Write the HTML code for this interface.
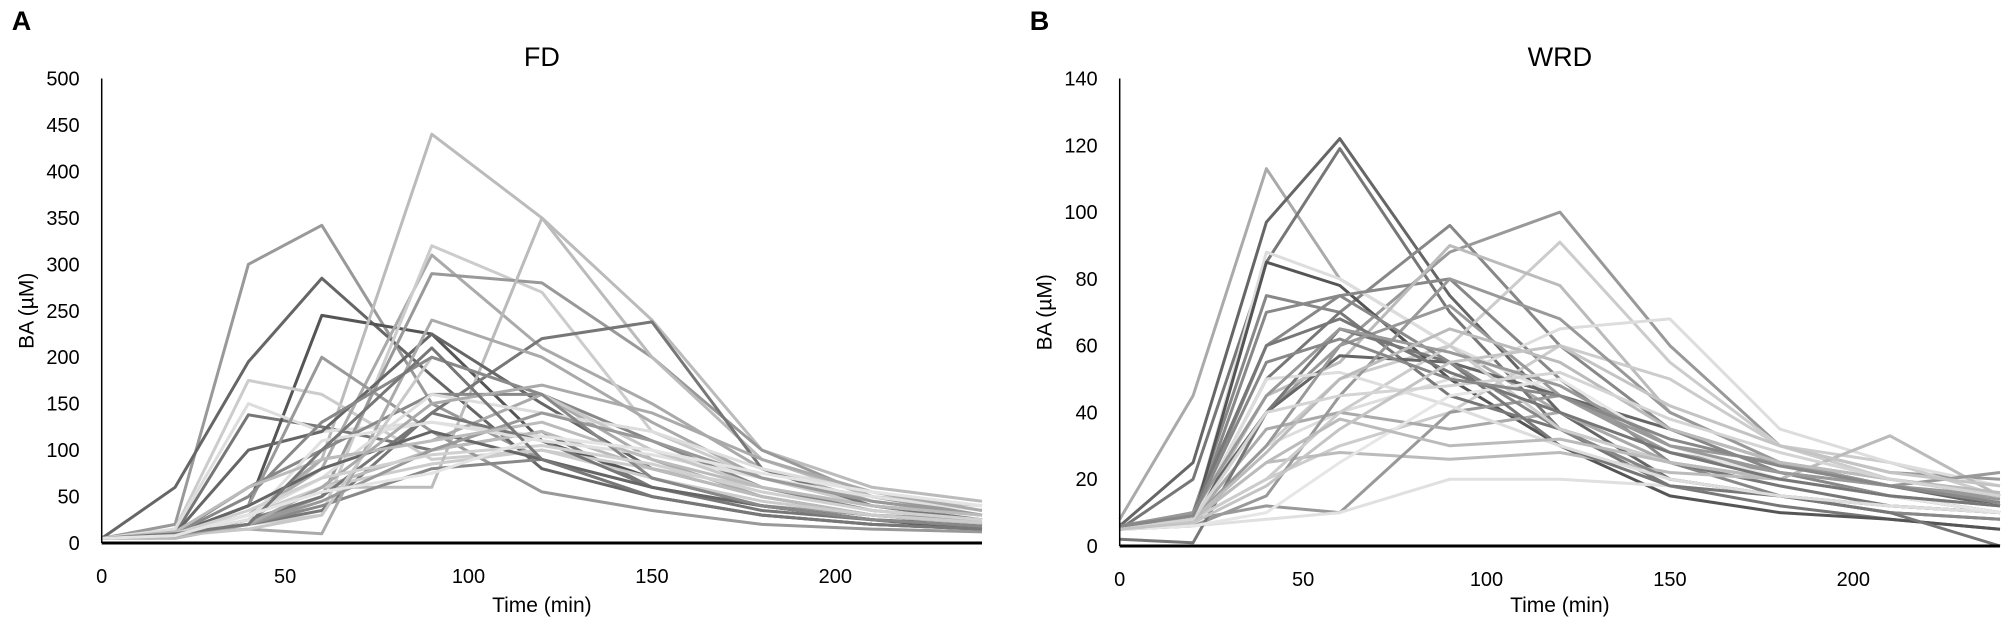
<!DOCTYPE html>
<html><head><meta charset="utf-8"><style>
html,body{margin:0;padding:0;background:#fff;}
svg{display:block;font-family:"Liberation Sans",sans-serif;}
</style></head><body>
<svg id="fig" width="2007" height="631" viewBox="0 0 2007 631" xmlns="http://www.w3.org/2000/svg"></svg>
<script>
const times = [0,20,40,60,90,120,150,180,210,240];
const xTicks = [0,50,100,150,200];
const fdTicks = [0,50,100,150,200,250,300,350,400,450,500];
const wrdTicks = [0,20,40,60,80,100,120,140];
const fdSeries = [
[5,20,300,342,150,90,60,40,30,25],[5,60,195,285,180,80,50,30,20,15],[5,10,138,125,100,120,60,40,25,20],
[5,10,40,245,225,110,70,40,25,15],[5,10,20,90,440,350,240,100,60,45],[5,15,175,160,90,100,80,60,40,30],
[5,15,150,120,130,115,100,70,50,35],[5,10,30,80,310,210,150,80,45,30],[5,10,20,30,320,270,120,70,40,30],
[5,10,20,50,290,280,200,100,50,30],[5,10,20,60,60,350,200,90,50,40],[5,10,20,35,140,220,238,80,40,25],
[5,10,100,120,225,150,80,50,30,20],[5,10,60,100,160,160,110,60,35,25],[5,10,40,200,120,55,35,20,15,12],
[5,10,30,90,110,160,90,50,30,20],[5,5,20,60,100,120,80,50,30,20],[5,10,30,60,85,100,70,45,30,22],
[5,8,25,50,140,110,60,35,25,18],[5,8,20,40,80,90,50,30,20,15],[5,10,15,10,240,200,130,70,45,30],
[5,10,30,70,160,140,120,80,55,40],[5,10,25,110,130,110,95,70,50,35],[5,8,15,30,200,160,100,60,40,30],
[5,10,40,80,120,90,60,40,25,18],[5,10,20,45,100,140,110,70,45,30],
[5,10,50,130,200,160,70,40,25,18],[5,12,60,90,110,130,90,60,40,30],[5,8,20,60,150,170,140,90,55,35],
[5,10,35,70,95,105,85,55,35,25],[5,10,20,100,210,90,50,30,20,15],[5,8,30,55,75,115,100,75,55,40]];
const fdColors = ["#999","#666","#777","#555","#bbb","#ccc","#ddd","#aaa","#ccc","#999","#bbb","#777","#666","#888","#999","#aaa","#bbb","#ccc","#777","#888","#aaa","#ddd","#e0e0e0","#c8c8c8","#666","#999","#888","#bbb","#aaa","#d0d0d0","#777","#e4e4e4"];
const wrdSeries = [
[8,45,113,80,60,40,25,20,15,10],[6,25,97,122,75,40,20,15,10,8],[5,20,85,119,70,35,18,12,8,5],
[5,10,75,70,96,60,35,22,15,10],[5,8,40,60,88,100,60,30,22,20],[5,8,30,50,60,91,55,30,25,15],
[6,8,88,80,60,45,30,20,15,12],[5,8,85,78,50,30,15,10,8,5],[5,8,60,75,80,50,25,15,10,8],
[6,8,45,55,90,78,40,25,20,15],[5,8,30,40,50,65,68,35,25,18],[5,8,20,30,40,60,50,30,20,15],
[5,8,50,70,45,35,25,18,12,10],[5,10,40,57,55,45,35,25,18,12],[5,8,25,28,26,28,22,20,33,15],
[5,8,12,10,40,45,30,25,18,15],[5,6,8,10,20,20,18,15,12,10],[5,8,35,40,35,40,25,20,15,10],
[5,6,15,45,80,68,40,25,20,15],[2,1,40,65,55,30,18,15,10,0],[5,8,70,75,55,35,20,15,12,10],
[5,8,20,40,60,35,25,20,15,12],[5,8,50,52,42,30,20,15,12,10],[5,8,30,60,72,45,28,22,18,22],
[5,6,10,25,45,50,30,20,15,10],[5,8,25,38,30,32,25,20,15,12],
[5,10,60,68,52,40,28,20,15,12],[6,10,45,65,58,48,30,22,18,14],[5,8,28,50,65,55,35,25,20,16],
[5,8,40,45,48,52,38,28,20,15],[6,9,55,62,50,45,32,24,18,13],[5,7,18,35,55,60,42,30,22,18]];
const wrdColors = ["#aaa","#666","#777","#888","#999","#ccc","#ddd","#555","#888","#bbb","#ddd","#ccc","#777","#666","#bbb","#999","#e0e0e0","#aaa","#999","#777","#888","#ccc","#ddd","#999","#e6e6e6","#bbb","#777","#999","#bbb","#d4d4d4","#888","#c4c4c4"];

const svg = document.getElementById('fig');
const NS = "http://www.w3.org/2000/svg";
function mk(tag, attrs, parent, text){
  const e = document.createElementNS(NS, tag);
  for (const k in attrs) e.setAttribute(k, attrs[k]);
  if (text !== undefined) e.textContent = text;
  (parent || svg).appendChild(e);
  return e;
}
function panel(cfg){
  const g = mk('g', {});
  
  
  const xs = t => cfg.x0 + t * cfg.pxPerMin;
  const ys = v => cfg.y0 - v / cfg.yMax * (cfg.y0 - cfg.yTop);
  cfg.series.forEach((s, i) => {
    const pts = s.map((v, j) => xs(times[j]).toFixed(1) + ',' + ys(v).toFixed(1)).join(' ');
    const pl = mk('polyline', {points: pts, fill: 'none', stroke: cfg.colors[i % cfg.colors.length], 'stroke-width': 3, 'stroke-linejoin': 'round'}, g);
    
    
  });
  const ya = mk('line', {x1: cfg.x0, y1: cfg.yTop, x2: cfg.x0, y2: cfg.y0, stroke: '#000', 'stroke-width': 1.5}, g);
  
  
  const xa = mk('line', {x1: cfg.x0, y1: cfg.y0, x2: xs(240), y2: cfg.y0, stroke: '#000', 'stroke-width': 3}, g);
  
  
  cfg.yTicks.forEach(v => {
    const t = mk('text', {x: cfg.x0 - 22, y: ys(v) + 7, 'text-anchor': 'end', 'font-size': 20}, g, String(v));
    
    
  });
  xTicks.forEach(v => {
    const t = mk('text', {x: xs(v), y: cfg.y0 + 40, 'text-anchor': 'middle', 'font-size': 20}, g, String(v));
    
    
  });
  const xt = mk('text', {x: cfg.x0 + 120 * cfg.pxPerMin, y: 612, 'text-anchor': 'middle', 'font-size': 21}, g, 'Time (min)');
  
  
  const yt = mk('text', {x: 0, y: 0, 'text-anchor': 'middle', 'font-size': 21, transform: 'translate(' + (cfg.x0 - 68) + ',' + ((cfg.y0 + cfg.yTop) / 2) + ') rotate(-90)'}, g, 'BA (µM)');
  
  
  const tt = mk('text', {x: cfg.x0 + 120 * cfg.pxPerMin, y: 66, 'text-anchor': 'middle', 'font-size': 27}, g, cfg.title);
  
  
  const lb = mk('text', {x: cfg.x0 - 90, y: 30, 'font-size': 27, 'font-weight': 'bold'}, g, cfg.letter);
  
  
}
panel({name: 'fd-panel', x0: 101.7, y0: 543, yTop: 78.5, yMax: 500, pxPerMin: 3.668, series: fdSeries, colors: fdColors, yTicks: fdTicks, title: 'FD', letter: 'A'});
panel({name: 'wrd-panel', x0: 1119.7, y0: 546, yTop: 78.5, yMax: 140, pxPerMin: 3.668, series: wrdSeries, colors: wrdColors, yTicks: wrdTicks, title: 'WRD', letter: 'B'});
</script>
</body></html>
